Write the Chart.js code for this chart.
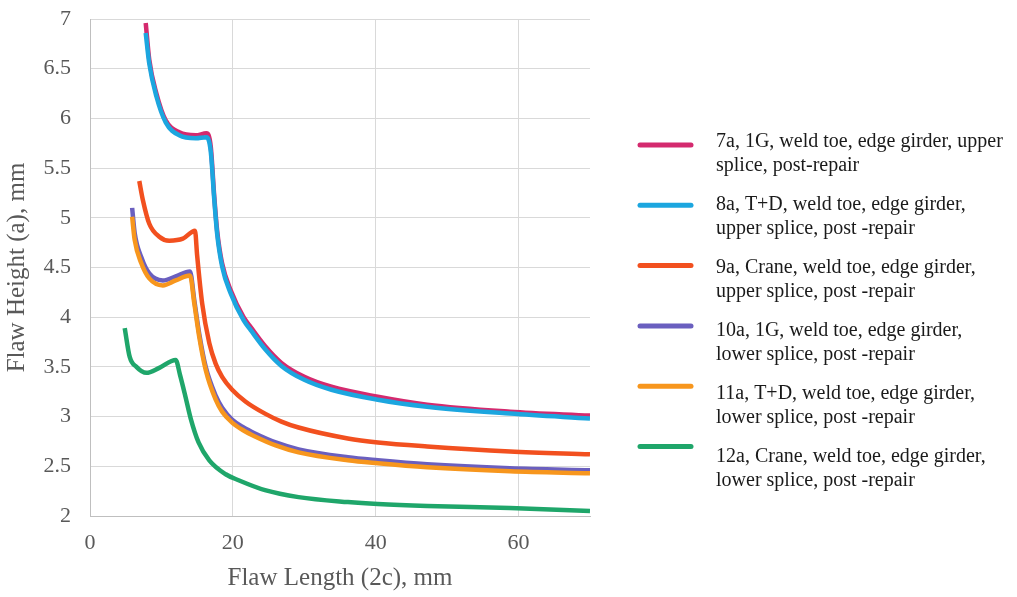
<!DOCTYPE html>
<html>
<head>
<meta charset="utf-8">
<script src="https://cdn.jsdelivr.net/npm/chart.js@4"></script>
<style>
  html, body { margin: 0; padding: 0; background: #ffffff; }
  canvas { display: block; }
</style>
</head>
<body>
<canvas id="c" width="1017" height="597"></canvas>
<script>
// ---------- data ----------
const seriesNames = [
  ["7a, 1G, weld toe, edge girder, upper", "splice, post-repair"],
  ["8a, T+D, weld toe, edge girder,", "upper splice, post -repair"],
  ["9a, Crane, weld toe, edge girder,", "upper splice, post -repair"],
  ["10a, 1G, weld toe, edge girder,", "lower splice, post -repair"],
  ["11a, T+D, weld toe, edge girder,", "lower splice, post -repair"],
  ["12a, Crane, weld toe, edge girder,", "lower splice, post -repair"]
];

const x7a = [7.8, 8.3, 9.3, 10.6, 12.5, 14.8, 16.3, 16.9, 17.4, 17.8, 18.5, 19.7, 21.5, 22.5, 24.5, 26.8, 30.0, 33.8, 40.3, 47.2, 58.8, 70];
const y7a = [6.96, 6.59, 6.25, 5.98, 5.86, 5.83, 5.85, 5.72, 5.21, 4.87, 4.54, 4.27, 4.00, 3.90, 3.71, 3.54, 3.40, 3.30, 3.20, 3.12, 3.05, 3.01];

const x8a = [7.8, 8.3, 9.3, 10.6, 12.5, 14.8, 16.3, 16.9, 17.4, 17.8, 18.5, 19.7, 21.5, 22.5, 24.5, 26.8, 30.0, 33.8, 40.3, 47.2, 58.8, 70];
const y8a = [6.86, 6.55, 6.22, 5.96, 5.83, 5.80, 5.81, 5.67, 5.18, 4.84, 4.51, 4.24, 3.97, 3.87, 3.68, 3.51, 3.37, 3.27, 3.17, 3.10, 3.03, 2.98];

const x9a = [6.9, 7.4, 8.3, 9.7, 11.1, 13.0, 14.7, 15.0, 15.7, 16.7, 17.6, 18.5, 19.9, 21.8, 24.5, 26.8, 29.2, 36.1, 40.3, 47.2, 58.8, 70];
const y9a = [5.37, 5.18, 4.94, 4.81, 4.77, 4.79, 4.87, 4.62, 4.14, 3.74, 3.53, 3.40, 3.27, 3.15, 3.03, 2.95, 2.89, 2.78, 2.74, 2.70, 2.65, 2.62];

const x10a = [5.9, 6.25, 7.2, 8.3, 10.2, 12.0, 14.0, 14.6, 15.3, 16.2, 17.6, 18.5, 19.9, 21.5, 23.1, 26.0, 29.2, 36.1, 40.3, 47.2, 58.8, 70];
const y10a = [5.10, 4.85, 4.60, 4.44, 4.37, 4.41, 4.46, 4.17, 3.83, 3.50, 3.21, 3.09, 2.97, 2.89, 2.83, 2.74, 2.67, 2.59, 2.56, 2.52, 2.48, 2.46];

const x11a = [5.9, 6.25, 7.2, 8.3, 10.2, 12.0, 14.0, 14.6, 15.3, 16.2, 17.6, 18.5, 19.9, 21.5, 23.1, 26.0, 29.2, 36.1, 40.3, 47.2, 58.8, 70];
const y11a = [5.01, 4.78, 4.54, 4.39, 4.32, 4.37, 4.42, 4.14, 3.80, 3.47, 3.17, 3.05, 2.94, 2.86, 2.80, 2.71, 2.64, 2.56, 2.53, 2.49, 2.45, 2.43];

const x12a = [4.86, 5.56, 6.5, 7.9, 9.7, 12.0, 12.6, 13.3, 14.1, 15.2, 16.7, 19.0, 20.8, 24.5, 29.2, 36.1, 40.3, 47.2, 58.8, 70];
const y12a = [3.89, 3.60, 3.50, 3.44, 3.49, 3.57, 3.42, 3.22, 2.98, 2.74, 2.56, 2.42, 2.36, 2.26, 2.19, 2.14, 2.12, 2.10, 2.08, 2.05];

const xTicks = [0, 20, 40, 60];
const yTicks = [2, 2.5, 3, 3.5, 4, 4.5, 5, 5.5, 6, 6.5, 7];

// ---------- styles ----------
const colors = ['#D42A6E', '#1CA6DF', '#F2501F', '#6A5FBF', '#F7961D', '#1FA66A'];
const xs = [x7a, x8a, x9a, x10a, x11a, x12a];
const ys = [y7a, y8a, y9a, y10a, y11a, y12a];

const datasets = xs.map((xa, i) => ({
  label: seriesNames[i].join(' '),
  data: xa.map((x, j) => ({ x: x, y: ys[i][j] })),
  borderColor: colors[i],
  backgroundColor: colors[i],
  borderWidth: 4.5,
  pointRadius: 0,
  showLine: true,
  fill: false,
  cubicInterpolationMode: 'monotone',
  order: xs.length - i
}));

const legendPlugin = {
  id: 'sideLegend',
  afterDraw(chart) {
    const ctx = chart.ctx;
    ctx.save();
    ctx.font = '20px "Liberation Serif", "Times New Roman", serif';
    ctx.textBaseline = 'middle';
    ctx.textAlign = 'left';
    chart.data.datasets.forEach((ds, i) => {
      const my = 145 + 60.3 * i;
      ctx.strokeStyle = ds.borderColor;
      ctx.lineWidth = 5;
      ctx.lineCap = 'round';
      ctx.beginPath();
      ctx.moveTo(640, my);
      ctx.lineTo(691, my);
      ctx.stroke();
      ctx.fillStyle = '#1a1a1a';
      const ty = 142 + 63 * i;
      seriesNames[i].forEach((line, k) => {
        ctx.fillText(line, 716, ty + 23.3 * k);
      });
    });
    ctx.restore();
  }
};

const tickFont = { family: '"Liberation Serif", "Times New Roman", serif', size: 22 };
const titleFont = { family: '"Liberation Serif", "Times New Roman", serif', size: 25 };

new Chart(document.getElementById('c'), {
  type: 'scatter',
  data: { datasets: datasets },
  options: {
    responsive: false,
    animation: false,
    layout: { padding: { left: 0, top: 19, right: 427, bottom: 0 } },
    plugins: { legend: { display: false }, tooltip: { enabled: false } },
    scales: {
      x: {
        type: 'linear',
        min: 0, max: 70,
        afterFit: s => { s.height = 81; s.paddingLeft = 0; s.paddingRight = 0; },
        afterBuildTicks: s => { s.ticks = xTicks.map(v => ({ value: v })); },
        ticks: { font: tickFont, color: '#595959', padding: 14, includeBounds: false, callback: v => String(+v) },
        grid: { color: '#d9d9d9', lineWidth: 1, drawTicks: false },
        border: { color: '#bfbfbf', width: 1 },
        title: { display: true, text: 'Flaw Length (2c), mm', font: titleFont, color: '#595959', padding: { top: 0, bottom: 4 } }
      },
      y: {
        type: 'linear',
        min: 2, max: 7,
        afterFit: s => { s.width = 90; s.paddingTop = 0; s.paddingBottom = 0; },
        afterBuildTicks: s => { s.ticks = yTicks.map(v => ({ value: v })); },
        ticks: { font: tickFont, color: '#595959', padding: 19, callback: v => String(+v) },
        grid: { color: '#d9d9d9', lineWidth: 1, drawTicks: false },
        border: { color: '#bfbfbf', width: 1 },
        title: { display: true, text: 'Flaw Height (a), mm', font: titleFont, color: '#595959', padding: { top: 2, bottom: 0 } }
      }
    }
  },
  plugins: [legendPlugin]
});
</script>
</body>
</html>
